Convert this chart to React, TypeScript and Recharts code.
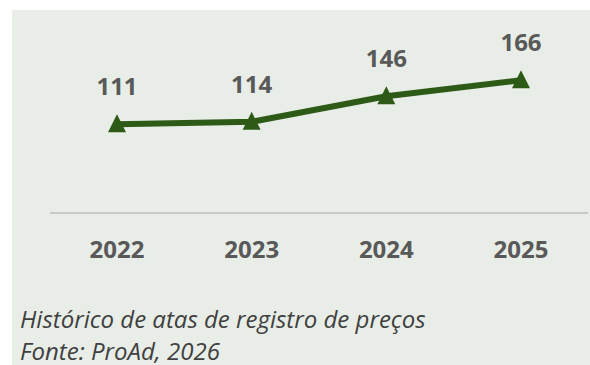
import { LineChart, Line, XAxis, YAxis, LabelList } from "recharts";

const YEARS = ["2022", "2023", "2024", "2025"];
const ATAS = [111, 114, 146, 166];

const GREEN = "#2E5A17";
const PANEL = "#E8EDE7";
const TEXT = "#595959";
const FONT = "'Open Sans', 'Noto Sans', sans-serif";

const data = YEARS.map((year, i) => ({ year, atas: ATAS[i] }));

// triangle marker centred on the point
const Triangle = (props: any) => {
  const { cx, cy } = props;
  if (cx == null || cy == null) return null;
  return <path d={`M${cx},${cy - 10} L${cx + 9},${cy + 8} L${cx - 9},${cy + 8} Z`} fill={GREEN} />;
};

const App = () => {
  return (
    <div
      style={{
        position: "absolute",
        left: 0,
        top: 0,
        width: 590,
        height: 365,
        overflow: "hidden",
        background: "#fff",
        fontFamily: FONT,
      }}
    >
      <div style={{ position: "absolute", left: 12, top: 10, width: 578, height: 355, background: PANEL }}>
        <LineChart width={578} height={263} data={data} margin={{ top: 43, right: 2, bottom: 0, left: 38 }}>
          <XAxis
            dataKey="year"
            tickLine={false}
            axisLine={{ stroke: "#C6CAC4", strokeWidth: 2 }}
            tickMargin={22}
            height={60}
            padding={{ left: 67, right: 67 }}
            tick={{ fill: TEXT, fontSize: 24, fontWeight: 700, fontFamily: FONT }}
          />
          <YAxis hide domain={[0, 200]} />
          <Line
            dataKey="atas"
            stroke={GREEN}
            strokeWidth={6}
            dot={<Triangle />}
            activeDot={false}
            isAnimationActive={false}
          >
            <LabelList
              dataKey="atas"
              position="top"
              offset={29}
              fill={TEXT}
              fontSize={24}
              fontWeight={700}
              fontFamily={FONT}
            />
          </Line>
        </LineChart>
        <div
          style={{
            position: "absolute",
            left: 8,
            top: 293,
            fontStyle: "italic",
            fontSize: 24,
            lineHeight: "32px",
            color: "#404040",
            whiteSpace: "nowrap",
          }}
        >
          <div>Histórico de atas de registro de preços</div>
          <div>Fonte: ProAd, 2026</div>
        </div>
      </div>
    </div>
  );
};

export default App;
